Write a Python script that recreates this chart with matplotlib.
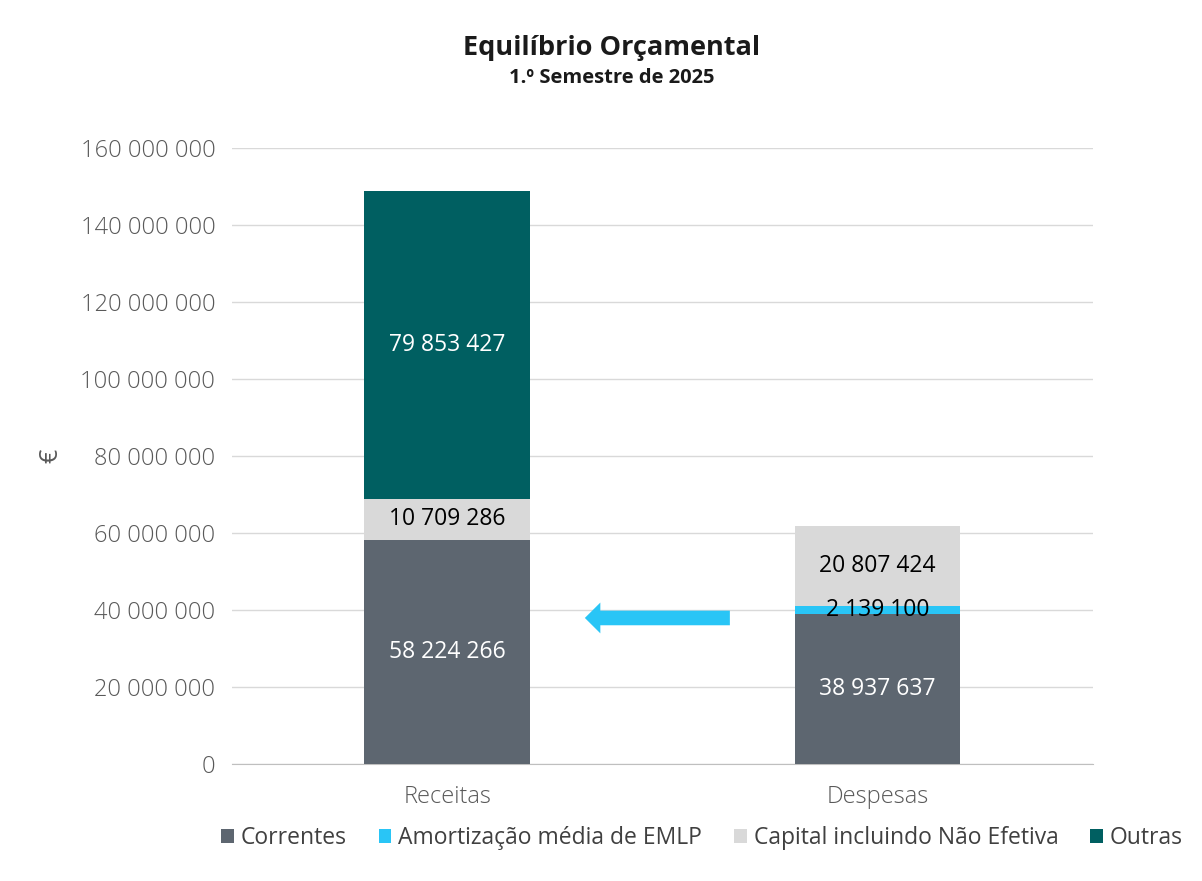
import numpy as np
import matplotlib.pyplot as plt
from matplotlib.patches import FancyArrow
from matplotlib.ticker import FuncFormatter

plt.rcParams['font.family'] = ['Open Sans', 'DejaVu Sans']

# data
categories = ['Receitas', 'Despesas']
series = ['Correntes', 'Amortização média de EMLP', 'Capital incluindo Não Efetiva', 'Outras']
correntes = [58224266, 38937637]
amortizacao = [0, 2139100]
capital = [10709286, 20807424]
outras = [79853427, 0]
colors = ['#5D6670', '#29C5F6', '#D9D9D9', '#005F61']
label_colors = ['white', 'black', 'black', 'white']

fig = plt.figure(figsize=(12.02, 8.81), dpi=100)
ax = fig.add_axes([0.193, 0.133, 0.716, 0.699])

x = np.arange(len(categories))
bottom = np.zeros(len(categories))
for name, vals, col, lc in zip(series, [correntes, amortizacao, capital, outras], colors, label_colors):
    vals = np.array(vals, dtype=float)
    ax.bar(x, vals, width=0.385, bottom=bottom, color=col, label=name, zorder=3)
    for xi, v, b in zip(x, vals, bottom):
        if v > 0:
            ax.text(xi, b + v / 2, f"{int(v):,}".replace(',', ' '), ha='center', va='center',
                    color=lc, fontsize=16.5, zorder=4)
    bottom += vals

# arrow from Despesas toward Receitas
ax.add_patch(FancyArrow(0.657, 37.9e6, -0.337, 0, width=3.8e6, head_width=8.0e6,
                        head_length=0.036, length_includes_head=True,
                        color='#29C5F6', lw=0, zorder=4))

ax.set_xlim(-0.5, 1.5)
ax.set_ylim(0, 160e6)
ax.set_yticks(np.arange(0, 160e6 + 1, 20e6))
ax.yaxis.set_major_formatter(FuncFormatter(lambda v, p: f"{int(v):,}".replace(',', ' ')))
ax.set_xticks(x)
ax.set_xticklabels(categories)
ax.tick_params(axis='y', length=0, labelsize=17, labelcolor='#595959', pad=12)
ax.tick_params(axis='x', length=0, labelsize=17, labelcolor='#595959', pad=15)
for lab in ax.get_xticklabels() + ax.get_yticklabels():
    lab.set_fontweight('light')
ax.grid(axis='y', color='#D9D9D9', lw=1, zorder=0)
for s in ['top', 'right', 'left']:
    ax.spines[s].set_visible(False)
ax.spines['bottom'].set_color('#BFBFBF')
ax.set_ylabel('€', fontsize=18, color='#595959', labelpad=12)

fig.text(0.509, 0.938, 'Equilíbrio Orçamental', ha='center', fontsize=19.5, fontweight='bold', color='#1a1a1a')
fig.text(0.509, 0.906, '1.º Semestre de 2025', ha='center', fontsize=14.5, fontweight='bold', color='#1a1a1a')

fig.legend(loc='center', bbox_to_anchor=(0.584, 0.049), ncol=4, frameon=False, fontsize=16.5,
           handlelength=0.55, handleheight=0.55, handletextpad=0.3, columnspacing=1.4,
           labelcolor='#404040')

fig.savefig('out.png', dpi=100)
